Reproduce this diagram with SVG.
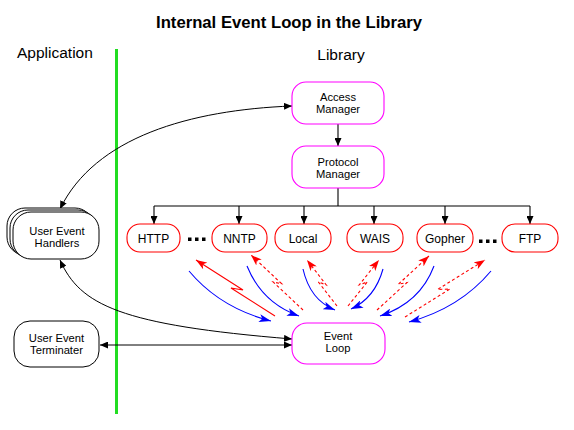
<svg xmlns="http://www.w3.org/2000/svg" width="574" height="430" viewBox="0 0 574 430">
<style>
text{font-family:"Liberation Sans",Arial,Helvetica,sans-serif;fill:#000}
.lbl{font-size:12px;text-anchor:middle}
.l2{font-size:11.2px;text-anchor:middle}
.hdr{font-size:15.5px}
.title{font-size:17px;font-weight:bold;text-anchor:middle}
.mag{fill:#fff;stroke:#ff00ff;stroke-width:1.1}
.red{fill:#fff;stroke:#ff0000;stroke-width:1.1}
.blk{fill:#fff;stroke:#000;stroke-width:1}
.ln{fill:none;stroke:#000;stroke-width:1.1}
.la{fill:none;stroke:#000;stroke-width:1.1;marker-end:url(#ah)}
.lb{fill:none;stroke:#000;stroke-width:1;marker-start:url(#ah);marker-end:url(#ah)}
.bl{fill:none;stroke:#0000ff;stroke-width:1.1;marker-end:url(#bh)}
.rs{fill:none;stroke:#ff0000;stroke-width:1.1;marker-end:url(#rh)}
.rd{fill:none;stroke:#ff0000;stroke-width:1.1;stroke-dasharray:3 2.5;marker-end:url(#rh)}
.dot{fill:#000}
</style>
<defs>
<marker id="ah" viewBox="0 0 8 7" refX="8" refY="3.5" markerWidth="8" markerHeight="7" markerUnits="userSpaceOnUse" orient="auto-start-reverse">
<path d="M0,0 L8,3.5 L0,7 z" fill="#000"/>
</marker>
<marker id="bh" viewBox="0 0 12 8" refX="12" refY="4" markerWidth="12" markerHeight="8" markerUnits="userSpaceOnUse" orient="auto">
<path d="M0,0 L12,4 L0,8 L3,4 z" fill="#0000ff"/>
</marker>
<marker id="rh" viewBox="0 0 11 8" refX="11" refY="4" markerWidth="11" markerHeight="8" markerUnits="userSpaceOnUse" orient="auto">
<path d="M0,0 L11,4 L0,8 L3,4 z" fill="#ff0000"/>
</marker>
</defs>
<rect width="574" height="430" fill="#fff"/>
<text class="title" x="289" y="28" textLength="266" lengthAdjust="spacingAndGlyphs">Internal Event Loop in the Library</text>
<text class="hdr" x="17" y="58">Application</text>
<text class="hdr" x="341" y="60" text-anchor="middle">Library</text>
<line x1="116.5" y1="49" x2="116.5" y2="414" stroke="#22dd22" stroke-width="3"/>
<g id="connectors">
<path class="la" d="M338,124 V146"/>
<path class="ln" d="M338,188 V206 M154,206 H530"/>
<path class="la" d="M154,206 V224"/>
<path class="la" d="M239,206 V224"/>
<path class="la" d="M304,206 V224"/>
<path class="la" d="M374,206 V224"/>
<path class="la" d="M445,206 V224"/>
<path class="la" d="M530,206 V224"/>
<path class="lb" d="M292,106 C190,110 95,137 60,209"/>
<path class="lb" d="M60,260 C80,305 120,325 292,339"/>
<path class="lb" d="M100,345 H292"/>
<path class="bl" d="M189,271 Q220,308 271,321"/>
<path class="bl" d="M247,266 Q262,303 299,316"/>
<path class="bl" d="M303,269 Q310,300 335,310"/>
<path class="bl" d="M383,269 Q375,298 351,309"/>
<path class="bl" d="M434,266 Q420,303 380,316"/>
<path class="bl" d="M491,271 Q460,308 409,322"/>
<path class="rs" d="M275,316 L231,288 L243,290 L196,260"/>
<path class="rd" d="M303,310 L273.1,282 L281.6,283.7 L251,255"/>
<path class="rd" d="M337,306 L318.3,281.9 L326.3,285 L307,260"/>
<path class="rd" d="M348,306 L367.3,281.9 L359.2,284.9 L379,260"/>
<path class="rd" d="M377,310 L406.9,282.6 L398.4,284.2 L429,256"/>
<path class="rd" d="M405,317 L449.9,289 L437.5,289.5 L485,260"/>
</g>
<g id="access-manager">
<rect class="mag" x="292" y="82" width="92" height="42" rx="14"/>
<text class="l2" x="338" y="100.5">Access<tspan x="338" dy="12.6">Manager</tspan></text>
</g>
<g id="protocol-manager">
<rect class="mag" x="292" y="146" width="92" height="42" rx="14"/>
<text class="l2" x="338" y="165.5">Protocol<tspan x="338" dy="12.6">Manager</tspan></text>
</g>
<g id="http">
<rect class="red" x="127" y="224" width="53" height="28" rx="13"/>
<text class="lbl" x="153.5" y="243">HTTP</text>
</g>
<g id="nntp">
<rect class="red" x="212" y="224" width="55" height="28" rx="13"/>
<text class="lbl" x="239.5" y="243">NNTP</text>
</g>
<g id="local">
<rect class="red" x="275" y="224" width="56" height="28" rx="13"/>
<text class="lbl" x="303" y="243">Local</text>
</g>
<g id="wais">
<rect class="red" x="347" y="224" width="56" height="28" rx="13"/>
<text class="lbl" x="375" y="243">WAIS</text>
</g>
<g id="gopher">
<rect class="red" x="417" y="224" width="56" height="28" rx="13"/>
<text class="lbl" x="445" y="243">Gopher</text>
</g>
<g id="ftp">
<rect class="red" x="502" y="224" width="56" height="28" rx="13"/>
<text class="lbl" x="530" y="243">FTP</text>
</g>
<g id="dots">
<rect class="dot" x="188" y="237.5" width="3.5" height="3.5"/>
<rect class="dot" x="195" y="237.5" width="3.5" height="3.5"/>
<rect class="dot" x="202" y="237.5" width="3.5" height="3.5"/>
<rect class="dot" x="479" y="239.5" width="3.5" height="3.5"/>
<rect class="dot" x="486" y="239.5" width="3.5" height="3.5"/>
<rect class="dot" x="493" y="239.5" width="3.5" height="3.5"/>
</g>
<g id="event-loop">
<rect class="mag" x="292" y="323" width="93" height="41" rx="15"/>
<text class="l2" x="338" y="339.5">Event<tspan x="338" dy="12.6">Loop</tspan></text>
</g>
<g id="user-event-handlers">
<rect class="blk" x="7" y="208" width="86" height="47" rx="18"/>
<rect class="blk" x="10" y="210" width="86" height="47" rx="18"/>
<rect class="blk" x="13" y="212" width="86" height="47" rx="18"/>
<text class="l2" x="57" y="234.5">User Event<tspan x="57" dy="12.6">Handlers</tspan></text>
</g>
<g id="user-event-terminater">
<rect class="blk" x="14" y="321" width="85" height="46" rx="16"/>
<text class="l2" x="56.5" y="341.5">User Event<tspan x="56.5" dy="12.6">Terminater</tspan></text>
</g>
</svg>
